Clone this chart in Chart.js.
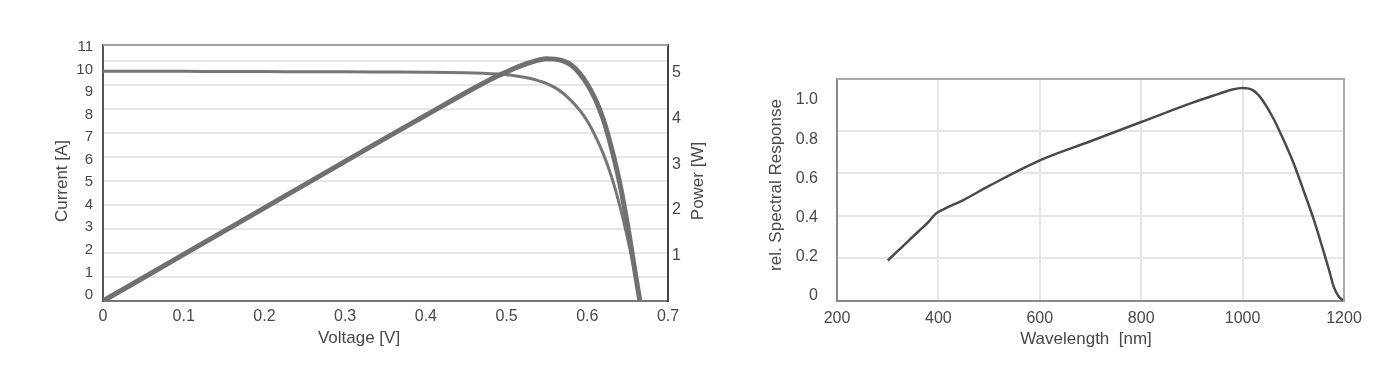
<!DOCTYPE html>
<html>
<head>
<meta charset="utf-8">
<script src="https://cdn.jsdelivr.net/npm/chart.js@4"></script>
<style>
  html, body { margin: 0; padding: 0; background: #fff; }
  #wrap { position: relative; width: 1400px; height: 373px; }
  #ivBox { position: absolute; left: 0; top: 0; }
  #srBox { position: absolute; left: 720px; top: 0; }
</style>
</head>
<body>
<div id="wrap">
  <div id="ivBox"><canvas id="ivChart" width="720" height="373"></canvas></div>
  <div id="srBox"><canvas id="srChart" width="680" height="373"></canvas></div>
</div>
<script>
// Kennlinie (I-V und P-V)
const ivVoltage = [0, 0.05, 0.1, 0.15, 0.2, 0.25, 0.3, 0.35, 0.4, 0.45, 0.47, 0.49, 0.5, 0.51, 0.52, 0.53, 0.54, 0.55, 0.56, 0.57, 0.58, 0.59, 0.6, 0.61, 0.62, 0.63, 0.64, 0.65, 0.66, 0.665];
const ivCurrent = [9.92, 9.92, 9.92, 9.91, 9.91, 9.9, 9.9, 9.89, 9.88, 9.86, 9.84, 9.8, 9.77, 9.73, 9.67, 9.6, 9.5, 9.38, 9.2, 8.95, 8.62, 8.22, 7.72, 7.05, 6.25, 5.25, 4.0, 2.5, 0.8, -0.22];
const ivPower = [0, 0.51, 1.02, 1.53, 2.04, 2.55, 3.06, 3.57, 4.07, 4.57, 4.76, 4.94, 5.02, 5.1, 5.17, 5.23, 5.28, 5.31, 5.3, 5.26, 5.17, 5.0, 4.75, 4.42, 3.97, 3.35, 2.6, 1.65, 0.55, 0.02];

// Spektrale Empfindlichkeit
const srWavelength = [300, 320, 340, 360, 380, 395, 410, 450, 500, 600, 700, 800, 900, 950, 980, 1000, 1010, 1020, 1030, 1040, 1060, 1080, 1100, 1120, 1140, 1160, 1170, 1180, 1190, 1200];
const srResponse = [0.19, 0.235, 0.28, 0.325, 0.37, 0.41, 0.43, 0.475, 0.54, 0.66, 0.75, 0.84, 0.93, 0.97, 0.993, 1.0, 0.998, 0.99, 0.97, 0.94, 0.86, 0.76, 0.65, 0.52, 0.385, 0.23, 0.15, 0.065, 0.02, 0.0];

// Achsenbeschriftungen
const currentTicks = [0, 1, 2, 3, 4, 5, 6, 7, 8, 9, 10, 11];
const powerTicks = [1, 2, 3, 4, 5];
const voltageTicks = [0, 0.1, 0.2, 0.3, 0.4, 0.5, 0.6, 0.7];
const responseTicks = [0, 0.2, 0.4, 0.6, 0.8, 1.0];
const wavelengthTicks = [200, 400, 600, 800, 1000, 1200];

const FONT = "'Liberation Sans', Arial, sans-serif";
const TXT = "#484848";
const GRID = "#e6e6e6";

function toPoints(xs, ys) {
    return xs.map((x, i) => ({ x: x, y: ys[i] }));
}
function fixedTicks(list) {
    return function (scale) { scale.ticks = list.map(v => ({ value: v })); };
}

// Titel und Rahmen selbst zeichnen
const extras = {
    id: "extras",
    afterDraw(chart, args, opts) {
        const ctx = chart.ctx;
        const a = chart.chartArea;
        ctx.save();
        ctx.lineWidth = 2;
        ctx.strokeStyle = opts.frameColor;
        ctx.beginPath();
        ctx.moveTo(a.left, a.top);
        ctx.lineTo(a.right, a.top);
        if (opts.rightEdge) {
            ctx.lineTo(a.right, a.bottom);
        }
        ctx.stroke();
        ctx.fillStyle = TXT;
        ctx.textAlign = "center";
        ctx.textBaseline = "middle";
        opts.titles.forEach(t => {
            ctx.save();
            ctx.font = t.size + "px " + FONT;
            ctx.translate(t.x, t.y);
            if (t.vertical) ctx.rotate(-Math.PI / 2);
            ctx.fillText(t.text, 0, 0);
            ctx.restore();
        });
        ctx.restore();
    }
};

new Chart(document.getElementById("ivChart"), {
    type: "line",
    data: {
        datasets: [
            {
                data: toPoints(ivVoltage, ivPower),
                yAxisID: "y1",
                borderColor: "#707072",
                borderWidth: 5,
                pointRadius: 0,
                cubicInterpolationMode: "monotone"
            },
            {
                data: toPoints(ivVoltage, ivCurrent),
                yAxisID: "y",
                borderColor: "#767678",
                borderWidth: 3,
                pointRadius: 0,
                cubicInterpolationMode: "monotone"
            }
        ]
    },
    options: {
        responsive: false,
        animation: false,
        devicePixelRatio: 1,
        layout: { padding: { top: 45 } },
        plugins: {
            legend: { display: false },
            tooltip: { enabled: false },
            extras: {
                frameColor: "#a0a0a0",
                rightEdge: false,
                titles: [
                    { text: "Current [A]", x: 62, y: 181, size: 17, vertical: true },
                    { text: "Power [W]", x: 698, y: 181, size: 17, vertical: true },
                    { text: "Voltage [V]", x: 359, y: 338, size: 17 }
                ]
            }
        },
        scales: {
            x: {
                type: "linear",
                min: 0,
                max: 0.7,
                afterBuildTicks: fixedTicks(voltageTicks),
                afterFit(s) { s.height = 72; },
                grid: { display: false, drawTicks: false },
                border: { color: "#777", width: 2 },
                ticks: {
                    color: TXT,
                    font: { family: FONT, size: 16 },
                    padding: 6,
                    maxRotation: 0,
                    callback: v => v === 0 ? "0" : v.toFixed(1)
                }
            },
            y: {
                type: "linear",
                position: "left",
                min: -0.27,
                max: 11.09,
                afterBuildTicks: fixedTicks(currentTicks),
                afterFit(s) { s.width = 103; },
                grid: { display: false, drawTicks: false },
                border: { color: "#555", width: 2 },
                ticks: { color: TXT, font: { family: FONT, size: 15 }, padding: 10 }
            },
            yg: {
                type: "linear",
                position: "left",
                min: 0,
                max: 10.667,
                afterFit(s) { s.width = 0; },
                ticks: { display: false, stepSize: 1 },
                grid: { color: GRID, lineWidth: 2, drawTicks: false },
                border: { display: false }
            },
            y1: {
                type: "linear",
                position: "right",
                min: 0,
                max: 5.61,
                afterBuildTicks: fixedTicks(powerTicks),
                afterFit(s) { s.width = 52; },
                grid: { display: false, drawTicks: false },
                border: { color: "#444", width: 2 },
                ticks: { color: TXT, font: { family: FONT, size: 16 }, padding: 4 }
            }
        }
    },
    plugins: [extras]
});

new Chart(document.getElementById("srChart"), {
    type: "line",
    data: {
        datasets: [{
            data: toPoints(srWavelength, srResponse),
            yAxisID: "yg",
            borderColor: "#4a4a4a",
            borderWidth: 2.5,
            pointRadius: 0,
            cubicInterpolationMode: "monotone"
        }]
    },
    options: {
        responsive: false,
        animation: false,
        devicePixelRatio: 1,
        layout: { padding: { top: 79, right: 56 } },
        plugins: {
            legend: { display: false },
            tooltip: { enabled: false },
            extras: {
                frameColor: "#a8a8a8",
                rightEdge: true,
                titles: [
                    { text: "rel. Spectral Response", x: 56, y: 185, size: 17, vertical: true },
                    { text: "Wavelength  [nm]", x: 366, y: 339, size: 17 }
                ]
            }
        },
        scales: {
            x: {
                type: "linear",
                min: 200,
                max: 1200,
                afterBuildTicks: fixedTicks(wavelengthTicks),
                afterFit(s) { s.height = 72; },
                grid: { color: GRID, lineWidth: 2, drawTicks: false },
                border: { color: "#8a8a8a", width: 2 },
                ticks: {
                    color: TXT,
                    font: { family: FONT, size: 16 },
                    padding: 8,
                    maxRotation: 0,
                    callback: v => String(v)
                }
            },
            y: {
                type: "linear",
                position: "left",
                min: -0.0255,
                max: 1.107,
                afterBuildTicks: fixedTicks(responseTicks),
                afterFit(s) { s.width = 117; },
                grid: { display: false, drawTicks: false },
                border: { color: "#8a8a8a", width: 2 },
                ticks: {
                    color: TXT,
                    font: { family: FONT, size: 16 },
                    padding: 19,
                    callback: v => v === 0 ? "0" : v.toFixed(1)
                }
            },
            yg: {
                type: "linear",
                position: "left",
                min: 0,
                max: 1.042,
                afterFit(s) { s.width = 0; },
                ticks: { display: false, stepSize: 0.2 },
                grid: { color: GRID, lineWidth: 2, drawTicks: false },
                border: { display: false }
            }
        }
    },
    plugins: [extras]
});
</script>
</body>
</html>
